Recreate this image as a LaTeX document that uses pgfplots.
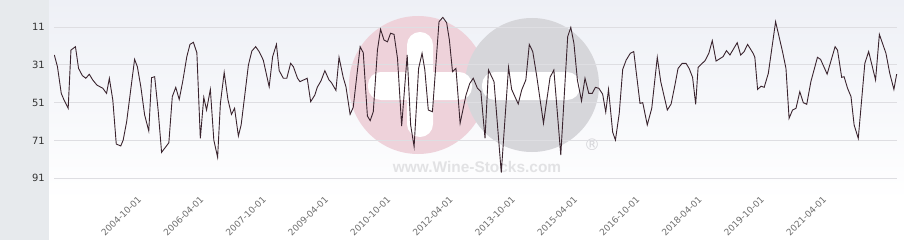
\documentclass[border=0pt]{standalone}
\usepackage{pgfplots}
\pgfplotsset{compat=1.18}
\usepackage{fontspec}
\setmainfont{DejaVu Sans}
\newfontfamily\wmfont{Liberation Sans}
\definecolor{panel}{RGB}{231,234,237}
\definecolor{bgtop}{RGB}{238,240,246}
\definecolor{gridc}{RGB}{222,222,226}
\definecolor{linec}{RGB}{58,36,46}
\definecolor{wmpink}{RGB}{238,210,218}
\definecolor{wmgray}{RGB}{214,214,218}
\definecolor{wmtext}{RGB}{226,226,228}
\definecolor{ylab}{RGB}{51,51,51}
\definecolor{xlab}{RGB}{110,110,110}
\begin{document}
\begin{tikzpicture}[x=1bp,y=1bp]
\fill[white] (0,0) rectangle (904,240);
\shade[top color=bgtop, bottom color=white] (48.5,40) rectangle (904,240);
\fill[panel] (0,0) rectangle (48.5,240);
% watermark
\fill[wmpink] (418,155) circle (69);
\fill[wmgray] (532,155) circle (67);
\fill[white, rounded corners=13] (407,103) rectangle (433,208);
\fill[white, rounded corners=13] (368,140) rectangle (472,168);
\fill[white, rounded corners=13] (482,140) rectangle (580,168);
\node[text=wmtext, font=\wmfont\bfseries\fontsize{15.5}{16}\selectfont] at (477,73) {www.Wine-Stocks.com};
\node[text=wmgray, font=\fontsize{16}{16}\selectfont] at (592,95) {®};
\begin{axis}[at={(54bp,48bp)}, anchor=south west, scale only axis,
  width=843bp, height=192bp,
  xmin=-24, xmax=219.7, ymin=-3.28, ymax=98.26, y dir=reverse,
  axis line style={draw=none}, tick style={draw=none},
  ytick={11,31,51,71,91}, ymajorgrids, grid style={gridc, line width=0.8bp},
  xtick={0,18,...,198},
  xticklabels={2004-10-01,2006-04-01,2007-10-01,2009-04-01,2010-10-01,2012-04-01,2013-10-01,2015-04-01,2016-10-01,2018-04-01,2019-10-01,2021-04-01},
  yticklabel style={anchor=east, inner sep=0pt, xshift=-9bp, font=\fontsize{10}{12}\selectfont, text=ylab},
  xticklabel style={rotate=45, anchor=east, inner sep=0pt, xshift=-2bp, yshift=-6bp, font=\fontsize{9}{10}\selectfont, text=xlab},
  /pgf/number format/assume math mode=true,
]
\addplot[linec, line width=0.9bp] coordinates {
(-23.9,25.8) (-23.0,32.0) (-21.9,46.1) (-21.1,49.6) (-19.9,54.0) (-19.1,23.2) (-17.8,21.4)
(-16.9,32.9) (-15.8,36.7) (-14.8,38.1) (-13.8,36.0) (-12.8,39.0) (-11.6,41.7) (-9.9,43.4)
(-8.8,46.1) (-8.0,38.1) (-7.0,49.6) (-6.0,72.9) (-4.7,73.9) (-4.0,70.8) (-3.0,61.1)
(-0.7,28.1) (0.1,32.0) (1.1,42.6) (2.2,57.5) (3.4,66.0) (4.2,37.8) (5.1,37.3) (6.1,54.9)
(7.1,77.3) (9.2,72.2) (10.2,47.8) (11.2,42.9) (12.2,49.3) (13.2,39.9) (14.4,26.7) (15.3,20.2)
(16.3,19.1) (17.3,24.6) (18.3,69.9) (19.3,48.2) (20.1,54.9) (21.2,44.0) (22.2,70.8) (23.3,79.9)
(24.1,51.4) (25.2,35.0) (26.3,49.6) (27.3,57.2) (28.2,54.0) (29.3,68.6) (30.1,62.8) (31.1,47.8)
(32.2,31.1) (33.2,23.7) (34.3,21.4) (35.3,24.0) (36.5,28.5) (38.2,42.6) (39.2,26.7) (40.3,20.2)
(41.1,34.1) (42.3,38.1) (43.3,38.1) (44.4,30.2) (45.2,32.0) (46.4,38.1) (47.1,39.9)
(49.2,38.1) (50.2,50.5) (51.4,47.0) (52.1,42.9) (53.2,39.4) (54.3,34.1) (55.5,39.0) (56.2,40.4)
(57.5,44.5) (58.4,27.0) (59.6,37.6) (60.4,42.6) (61.6,57.2) (62.5,53.5) (64.5,21.4) (65.4,24.6)
(66.6,58.1) (67.4,60.5) (68.3,55.8) (69.5,23.2) (70.4,12.2) (71.4,17.9) (72.4,18.8) (73.3,14.3)
(74.3,14.9) (75.3,27.6) (76.5,63.4) (78.1,25.8) (79.1,62.8) (80.1,74.3) (81.4,32.9) (82.4,24.9)
(83.2,33.7) (84.2,54.9) (85.4,55.8) (87.3,8.2) (88.4,5.9) (89.5,8.7) (90.3,17.9) (91.2,34.6)
(92.2,32.9) (93.4,61.9) (95.1,47.0) (96.2,40.8) (97.2,38.1) (98.4,43.4) (99.4,45.2) (100.6,69.9)
(101.6,33.7) (103.2,39.9) (105.3,88.0) (107.4,32.3) (108.3,44.0) (110.2,51.7) (111.2,44.3)
(112.4,39.0) (113.4,20.2) (114.4,24.0) (115.5,36.4) (117.5,61.9) (119.4,37.6) (120.5,33.7)
(122.5,78.7) (124.5,16.1) (125.4,11.2) (126.3,19.6) (127.3,39.0) (128.5,50.1) (129.5,38.1)
(130.6,46.1) (131.6,46.1) (132.5,42.9) (133.5,43.4) (134.6,46.5) (135.5,56.0) (136.3,44.0)
(137.5,66.6) (138.3,70.8) (139.4,56.7) (140.4,33.4) (141.4,28.5) (142.6,24.9) (143.6,24.0)
(145.4,51.4) (146.2,51.0) (147.5,62.8) (148.8,54.0) (150.4,27.0) (151.4,39.9) (153.3,54.9)
(154.4,51.7) (155.5,41.7) (156.4,32.9) (157.6,30.2) (158.7,30.2) (159.6,32.9) (160.6,37.6)
(161.5,51.9) (162.2,32.3) (164.2,28.8) (165.3,24.9) (166.3,18.2) (167.4,29.0) (169.4,26.7)
(170.4,23.5) (171.4,25.8) (173.5,19.3) (174.5,25.8) (175.5,24.0) (176.5,20.2) (178.1,24.9)
(178.6,27.0) (179.4,44.0) (180.4,42.3) (181.3,42.9) (182.5,35.5) (184.6,8.2) (186.6,24.0)
(187.6,32.9) (188.5,59.3) (189.5,54.9) (190.5,54.0) (191.6,45.2) (192.6,51.0) (193.6,51.9)
(194.8,39.9) (196.7,27.0) (197.6,28.1) (199.5,35.9) (201.8,21.4) (202.5,23.2) (203.7,37.6)
(204.4,37.3) (205.4,43.4) (206.4,47.8) (207.3,62.8) (208.5,69.9) (210.4,30.2) (211.5,24.0)
(213.5,39.0) (214.6,14.9) (216.5,24.9) (217.6,35.5) (218.8,44.0) (219.6,35.9)
};
\end{axis}
\end{tikzpicture}
\end{document}
